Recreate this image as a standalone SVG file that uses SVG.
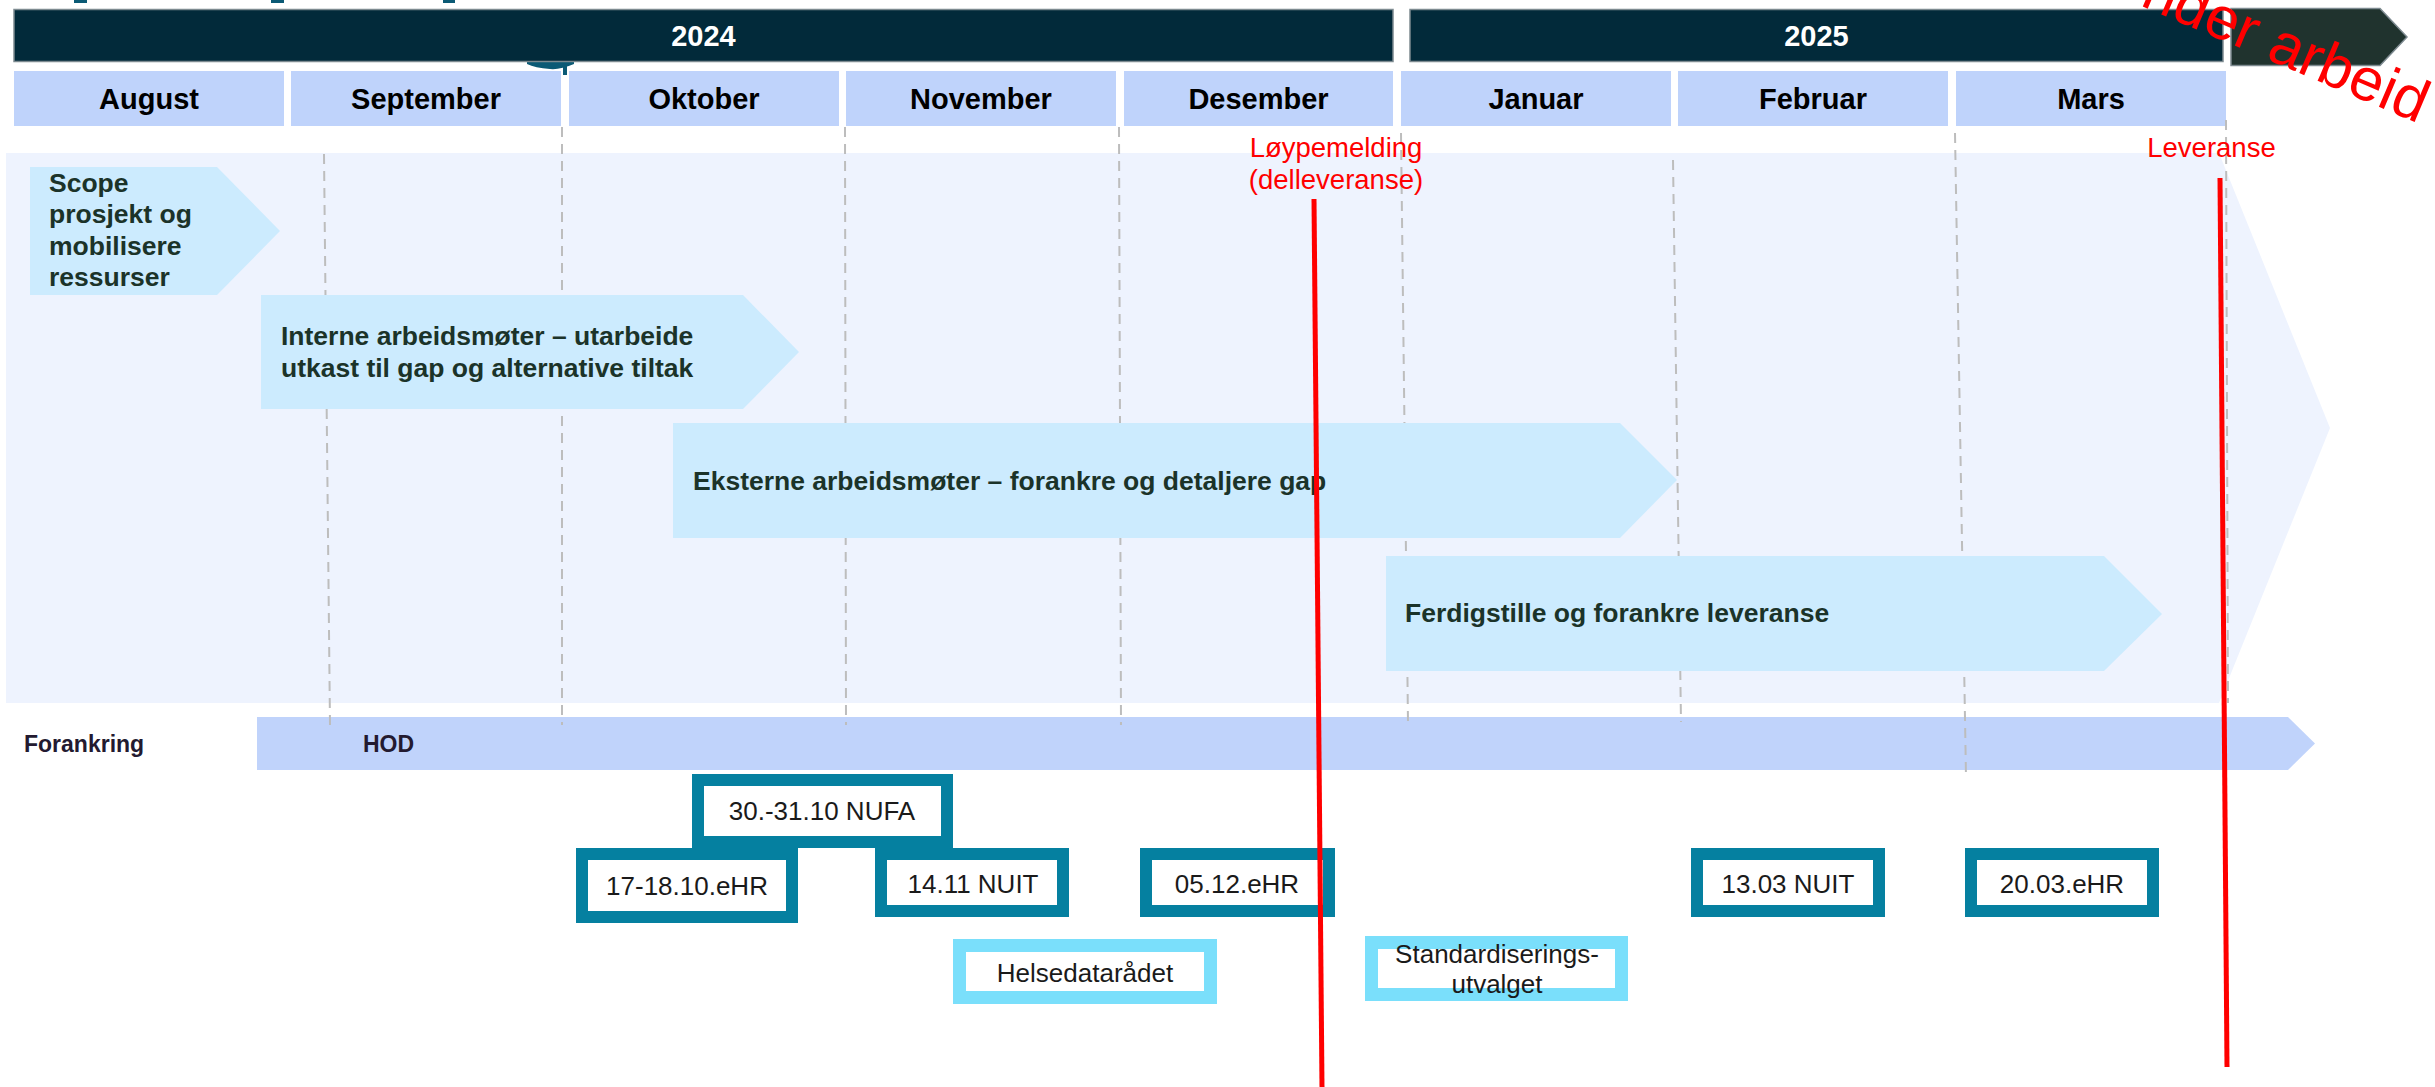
<svg xmlns="http://www.w3.org/2000/svg" width="2435" height="1087" viewBox="0 0 2435 1087">
  <style>
    text { font-family: "Liberation Sans", Arial, sans-serif; }
    .year { fill: #022A3A; stroke: #7d8a90; stroke-width: 1.5; }
    .yeartxt { fill: #ffffff; font-size: 29px; font-weight: bold; text-anchor: middle; }
    .month { fill: #BFD3FB; }
    .monthtxt { fill: #000000; font-size: 29px; font-weight: bold; text-anchor: middle; }
    .act { fill: #CCEBFE; }
    .acttxt { fill: #1B3329; font-size: 26.5px; font-weight: bold; }
    .grid { stroke: #BDBDBD; stroke-width: 2; stroke-dasharray: 10 7; fill: none; }
    .meet { fill: #ffffff; stroke: #0580A0; stroke-width: 12; }
    .meet2 { fill: #ffffff; stroke: #7ADFFB; stroke-width: 13; }
    .meettxt { fill: #1a1a1a; font-size: 26px; text-anchor: middle; }
    .red { stroke: #FF0000; stroke-width: 5; fill: none; }
    .redtxt { fill: #FF0000; font-size: 27.5px; text-anchor: middle; }
    .anchor { fill: #231A30; font-size: 23px; font-weight: bold; }
  </style>

  <!-- large title fragments peeking out behind the header bars -->
  <g id="title-fragments" fill="#0B5A75">
    <rect x="74" y="0" width="13" height="3"/>
    <rect x="271" y="0" width="13" height="3"/>
    <rect x="443" y="0" width="12" height="3"/>
    <path d="M527,61 H574 V64 Q560,70 550,69 Q535,68 527,64 Z"/>
    <rect x="563" y="61" width="4" height="14"/>
  </g>

  <!-- background phase arrow -->
  <polygon id="phase-background" points="6,153 2219,153 2330,428 2219,703 6,703" fill="#EEF3FE"/>

  <!-- year header -->
  <g id="year-2024">
    <rect class="year" x="14" y="9.5" width="1379" height="52"/>
    <text class="yeartxt" x="703.5" y="46">2024</text>
  </g>
  <g id="year-2025">
    <rect class="year" x="1410" y="9.5" width="813" height="52"/>
    <text class="yeartxt" x="1816.5" y="46">2025</text>
  </g>
  <g id="next-phase">
    <polygon points="2231,8.5 2380,8.5 2407,37 2380,65.5 2231,65.5" fill="#20332E" stroke="#7d8a90" stroke-width="1.5"/>
  </g>

  <!-- month header -->
  <g id="months">
    <g id="m-aug"><rect class="month" x="14" y="71" width="270" height="55"/><text class="monthtxt" x="149" y="109">August</text></g>
    <g id="m-sep"><rect class="month" x="291" y="71" width="270" height="55"/><text class="monthtxt" x="426" y="109">September</text></g>
    <g id="m-okt"><rect class="month" x="569" y="71" width="270" height="55"/><text class="monthtxt" x="704" y="109">Oktober</text></g>
    <g id="m-nov"><rect class="month" x="846" y="71" width="270" height="55"/><text class="monthtxt" x="981" y="109">November</text></g>
    <g id="m-des"><rect class="month" x="1124" y="71" width="269" height="55"/><text class="monthtxt" x="1258.5" y="109">Desember</text></g>
    <g id="m-jan"><rect class="month" x="1401" y="71" width="270" height="55"/><text class="monthtxt" x="1536" y="109">Januar</text></g>
    <g id="m-feb"><rect class="month" x="1678" y="71" width="270" height="55"/><text class="monthtxt" x="1813" y="109">Februar</text></g>
    <g id="m-mar"><rect class="month" x="1956" y="71" width="270" height="55"/><text class="monthtxt" x="2091" y="109">Mars</text></g>
  </g>

  <!-- anchoring bar -->
  <g id="forankring">
    <text class="anchor" x="24" y="752">Forankring</text>
    <polygon points="257,717 2288,717 2315,743.5 2288,770 257,770" fill="#C0D3FB"/>
    <text class="anchor" x="363" y="752">HOD</text>
  </g>

  <!-- month gridlines -->
  <g id="gridlines">
    <line class="grid" x1="324" y1="154" x2="330" y2="725"/>
    <line class="grid" x1="562" y1="127" x2="562" y2="725"/>
    <line class="grid" x1="845" y1="127" x2="846" y2="725"/>
    <line class="grid" x1="1119" y1="127" x2="1121" y2="725"/>
    <line class="grid" x1="1401" y1="133" x2="1408" y2="723"/>
    <line class="grid" x1="1673" y1="160" x2="1681" y2="722"/>
    <line class="grid" x1="1955" y1="133" x2="1966" y2="777"/>
    <line class="grid" x1="2226" y1="120" x2="2228" y2="703"/>
  </g>

  <!-- activities -->
  <g id="act-scope">
    <polygon class="act" points="30,167 217,167 280,231 217,295 30,295"/>
    <text class="acttxt" x="49" y="192">Scope</text>
    <text class="acttxt" x="49" y="223">prosjekt og</text>
    <text class="acttxt" x="49" y="255">mobilisere</text>
    <text class="acttxt" x="49" y="286">ressurser</text>
  </g>
  <g id="act-interne">
    <polygon class="act" points="261,295 743,295 799,352 743,409 261,409"/>
    <text class="acttxt" x="281" y="345">Interne arbeidsmøter – utarbeide</text>
    <text class="acttxt" x="281" y="377">utkast til gap og alternative tiltak</text>
  </g>
  <g id="act-eksterne">
    <polygon class="act" points="673,423 1620,423 1677,480 1620,538 673,538"/>
    <text class="acttxt" x="693" y="490">Eksterne arbeidsmøter – forankre og detaljere gap</text>
  </g>
  <g id="act-ferdigstille">
    <polygon class="act" points="1386,556 2104,556 2162,614 2104,671 1386,671"/>
    <text class="acttxt" x="1405" y="622">Ferdigstille og forankre leveranse</text>
  </g>

  <!-- meetings -->
  <g id="mt-nufa"><rect class="meet" x="698" y="780" width="249" height="62"/><text class="meettxt" x="822" y="820">30.-31.10 NUFA</text></g>
  <g id="mt-ehr-okt"><rect class="meet" x="582" y="854" width="210" height="63"/><text class="meettxt" x="687" y="895">17-18.10.eHR</text></g>
  <g id="mt-nuit-nov"><rect class="meet" x="881" y="854" width="182" height="57"/><text class="meettxt" x="973" y="893">14.11 NUIT</text></g>
  <g id="mt-ehr-des"><rect class="meet" x="1146" y="854" width="183" height="57"/><text class="meettxt" x="1237" y="893">05.12.eHR</text></g>
  <g id="mt-nuit-mar"><rect class="meet" x="1697" y="854" width="182" height="57"/><text class="meettxt" x="1788" y="893">13.03 NUIT</text></g>
  <g id="mt-ehr-mar"><rect class="meet" x="1971" y="854" width="182" height="57"/><text class="meettxt" x="2062" y="893">20.03.eHR</text></g>
  <g id="mt-helsedata"><rect class="meet2" x="959.5" y="945.5" width="251" height="52"/><text class="meettxt" x="1085" y="982">Helsedatarådet</text></g>
  <g id="mt-standard">
    <rect class="meet2" x="1371.5" y="942.5" width="250" height="52"/>
    <text class="meettxt" x="1497" y="963">Standardiserings-</text>
    <text class="meettxt" x="1497" y="993">utvalget</text>
  </g>

  <!-- milestone markers -->
  <g id="connectors">
    <line class="red" x1="1314" y1="199" x2="1322" y2="1087"/>
    <line class="red" x1="2220" y1="178" x2="2227" y2="1067"/>
  </g>
  <g id="milestone-labels">
    <text class="redtxt" x="1336" y="157">Løypemelding</text>
    <text class="redtxt" x="1336" y="189">(delleveranse)</text>
    <text class="redtxt" x="2211.5" y="157">Leveranse</text>
  </g>

  <!-- status stamp -->
  <text id="stamp" x="2099" y="-12" transform="rotate(23 2099 -12)" fill="#FF0000" font-size="60" style="font-family: 'Liberation Sans', Arial, sans-serif;">Under arbeid</text>
</svg>
